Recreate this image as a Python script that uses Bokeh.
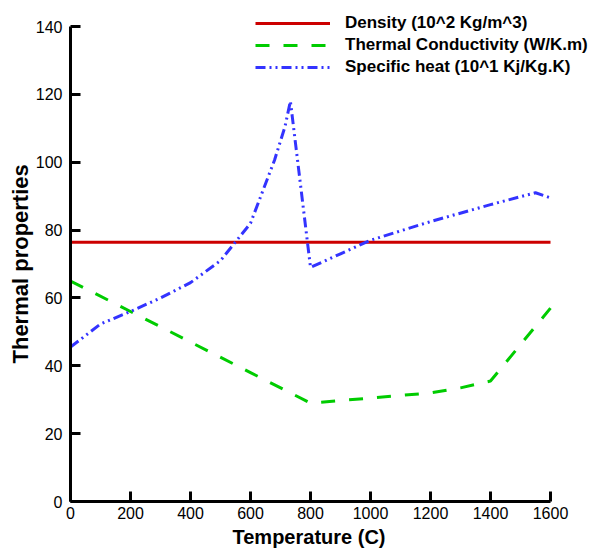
from bokeh.plotting import figure
from bokeh.models import Legend, LegendItem, FixedTicker, Range1d, Title
from bokeh.embed import file_html
from bokeh.resources import INLINE

# Data
density_x = [0, 1600]
density_y = [76.4, 76.4]

cond_x = [0, 200, 400, 600, 800, 1000, 1200, 1300, 1400, 1600]
cond_y = [65, 56, 47, 38, 29, 30.5, 32, 33.5, 35.5, 57]

cp_x = [0, 100, 200, 300, 400, 500, 550, 600, 680, 715, 733, 800, 900, 1000, 1200, 1400, 1550, 1600]
cp_y = [45.5, 52.3, 56, 60, 64.5, 71, 76.5, 82, 100.6, 110.5, 118, 69, 73, 77, 82.5, 87.5, 91, 89.5]

x_ticks = [0, 200, 400, 600, 800, 1000, 1200, 1400, 1600]
y_ticks = [0, 20, 40, 60, 80, 100, 120, 140]

labels = ["Density (10^2 Kg/m^3)", "Thermal Conductivity (W/K.m)", "Specific heat (10^1 Kj/Kg.K)"]
x_title = "Temperature (C)"
y_title = "Thermal properties"

W, H = 596, 551
left, bottom = 70, 50
# axis extents: 0..1600 spans 480 px, 0..140 spans 475 px
x_end = 1600 * (W - left) / 480.0
y_end = 140 * (H - bottom) / 475.0

p = figure(width=W, height=H, output_backend="svg", toolbar_location=None,
           x_range=Range1d(0, x_end), y_range=Range1d(0, y_end),
           min_border_left=left, min_border_right=0, min_border_top=0, min_border_bottom=bottom)
p.outline_line_color = None
p.grid.visible = False
p.background_fill_color = "white"
p.border_fill_color = "white"

r1 = p.line(density_x, density_y, line_color="#cc0000", line_width=3)
r2 = p.line(cond_x, cond_y, line_color="#00cc00", line_width=3, line_dash="14 14")
r3 = p.line(cp_x, cp_y, line_color="#3333ff", line_width=3, line_dash="10 4 2 4 2 4")

for ax in (p.xaxis[0], p.yaxis[0]):
    ax.axis_line_width = 3
    ax.axis_line_color = "black"
    ax.major_tick_line_width = 3
    ax.major_tick_line_color = "black"
    ax.major_tick_in = 10
    ax.major_tick_out = 0
    ax.minor_tick_line_color = None
    ax.major_label_text_font = "Liberation Sans"
    ax.major_label_text_font_size = "16px"
    ax.major_label_text_color = "black"

p.xaxis[0].bounds = (0, 1600)
p.yaxis[0].bounds = (0, 140)
p.xaxis[0].ticker = FixedTicker(ticks=x_ticks)
p.yaxis[0].ticker = FixedTicker(ticks=y_ticks)
p.xaxis[0].major_label_standoff = 5
p.yaxis[0].major_label_standoff = 8

tx = Title(text=x_title, align="left", offset=162, standoff=4,
           text_font="Liberation Sans", text_font_style="bold",
           text_font_size="20px", text_color="black")
p.add_layout(tx, "below")
ty = Title(text=y_title, align="left", offset=138, standoff=0,
           text_font="Liberation Sans", text_font_style="bold",
           text_font_size="22px", text_color="black")
p.add_layout(ty, "left")

legend = Legend(items=[LegendItem(label=labels[0], renderers=[r1]),
                       LegendItem(label=labels[1], renderers=[r2]),
                       LegendItem(label=labels[2], renderers=[r3])],
                location=(185, 423), orientation="vertical")
legend.border_line_color = None
legend.background_fill_alpha = 0
legend.glyph_width = 75
legend.glyph_height = 22
legend.label_height = 22
legend.spacing = 0
legend.padding = 0
legend.margin = 0
legend.label_standoff = 15
legend.label_text_font = "Liberation Sans"
legend.label_text_font_style = "bold"
legend.label_text_font_size = "17px"
legend.label_text_color = "black"
p.add_layout(legend, "center")

open("out.html", "w").write(file_html(p, INLINE))
